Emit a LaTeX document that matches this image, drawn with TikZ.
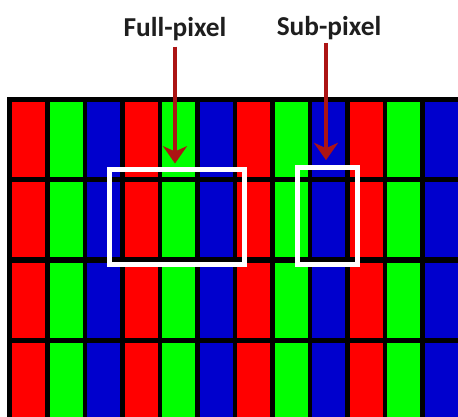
\documentclass[tikz,border=0pt]{standalone}
\usepackage{fontspec}
\setmainfont{Carlito}
\usetikzlibrary{arrows.meta}

\definecolor{pxred}{RGB}{255,0,0}
\definecolor{pxgreen}{RGB}{0,255,0}
\definecolor{pxblue}{RGB}{0,0,205}
\definecolor{pxarrowred}{RGB}{172,20,20}
\definecolor{pxlabel}{RGB}{30,30,30}

\begin{document}
\begin{tikzpicture}[x=0.75pt,y=0.75pt,yscale=-1,xscale=1,
  pxlabel/.style={anchor=base,inner sep=0.75pt,font=\bfseries\fontsize{20.5}{24}\selectfont,text=pxlabel},
  pxbox/.style={draw=white,line width=3.4pt,inner sep=0pt,outer sep=0pt,minimum width=#1},
  pxarrow/.style={draw=pxarrowred,line width=3.6pt,-{Stealth[width=18pt,length=13pt,inset=4pt]}}]
\useasboundingbox (0,0) rectangle (458,417);
\fill[white] (0,0) rectangle (458,417);

%Shape: Panel background
\fill[black] (7,97) rectangle (458,417);

%Shape: Sub-pixel stripes
\begin{scope}
\clip (7,97) rectangle (458,417);
\foreach \n/\col in {0/pxred,1/pxgreen,2/pxblue}
  \foreach \k in {0,...,3}
    \foreach \j in {0,...,3}
      \fill[\col] ({12+37.5*(3*\k+\n)},{102+80.3*\j}) rectangle ++(33,75);
\end{scope}

%Shape: Full-pixel frame
\node [pxbox=101.25pt,minimum height=71.25pt] (fullbox) at (177,217) {};
%Shape: Sub-pixel frame
\node [pxbox=45pt,minimum height=72.75pt] (subbox) at (327.5,216) {};

% Text Node
\node [pxlabel] (fulllbl) at (175,37) {Full-pixel};
% Text Node
\node [pxlabel] (sublbl) at (329,36) {Sub-pixel};

%Straight Lines: pointers
\draw [pxarrow,shorten <=3pt,shorten >=4.5pt] (fulllbl.south) -- (fulllbl.south |- fullbox.north);
\draw [pxarrow,shorten <=1pt,shorten >=5.5pt] ([xshift=-2.25pt]sublbl.south) -- ([xshift=-2.25pt]sublbl.south |- subbox.north);

\end{tikzpicture}
\end{document}
